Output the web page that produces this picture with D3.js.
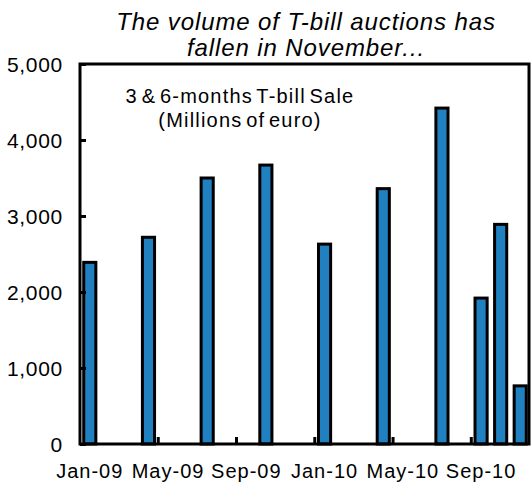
<!DOCTYPE html>
<html><head><meta charset="utf-8">
<script src="https://cdn.jsdelivr.net/npm/d3@7"></script>
<style>body{margin:0;background:#fff}svg{display:block}text{font-family:Arial,"Liberation Sans",sans-serif;fill:#000}</style>
</head><body>
<svg id="c" width="532" height="487"></svg>
<script>
const months = ["Jan-09","Feb-09","Mar-09","Apr-09","May-09","Jun-09","Jul-09","Aug-09","Sep-09","Oct-09","Nov-09","Dec-09",
  "Jan-10","Feb-10","Mar-10","Apr-10","May-10","Jun-10","Jul-10","Aug-10","Sep-10","Oct-10","Nov-10"];
const saleMonths = ["Jan-09","Apr-09","Jul-09","Oct-09","Jan-10","Apr-10","Jul-10","Sep-10","Oct-10","Nov-10"];
const saleValues = [2390,2720,3500,3670,2630,3360,4420,1920,2890,765];
const yTicks = [0,1000,2000,3000,4000,5000];
const xLabels = ["Jan-09","May-09","Sep-09","Jan-10","May-10","Sep-10"];
const titleLines = ["The volume of T-bill auctions has","fallen in November..."];
const noteLines = ["3 & 6-months T-bill Sale","(Millions of euro)"];

const svg = d3.select("#c");
const L=80, R=530, T=64, B=444;
const x = d3.scaleBand().domain(months).range([L,R]).padding(0);
const y = d3.scaleLinear().domain([0,5000]).range([B,T]);
const bw = x.bandwidth()*0.62;

// bars
svg.append("g").selectAll("rect").data(saleMonths).join("rect")
  .attr("x", d=>x(d)+x.bandwidth()/2-bw/2)
  .attr("y", (d,i)=>y(saleValues[i]))
  .attr("width", bw)
  .attr("height", (d,i)=>y(0)-y(saleValues[i]))
  .attr("fill","#2080c0").attr("stroke","#000").attr("stroke-width",3);

// y axis
const ya = svg.append("g").attr("transform",`translate(${L},0)`)
  .call(d3.axisLeft(y).tickValues(yTicks).tickFormat(d3.format(",")).tickSize(-6).tickPadding(17));
ya.select(".domain").remove();
ya.selectAll("line").attr("stroke","#000").attr("stroke-width",3);
ya.selectAll("text").style("font-size","21px").style("letter-spacing","0.7px").attr("dy","0.36em");

// x axis labels
const xa = svg.append("g").attr("transform",`translate(0,${B})`)
  .call(d3.axisBottom(x).tickValues(xLabels).tickSize(0).tickPadding(20));
xa.select(".domain").remove();
xa.selectAll("text").style("font-size","20px").style("letter-spacing","1px").attr("dy","0.71em");
// x ticks at band boundaries
svg.append("g").selectAll("line").data(xLabels.slice(1)).join("line")
  .attr("x1",d=>x(d)).attr("x2",d=>x(d)).attr("y1",B).attr("y2",B-7)
  .attr("stroke","#000").attr("stroke-width",3);

// frame
svg.append("rect").attr("x",L).attr("y",T).attr("width",R-1-L).attr("height",B-T)
  .attr("fill","none").attr("stroke","#000").attr("stroke-width",3);

// title
svg.append("g").selectAll("text").data(titleLines).join("text")
  .attr("x",306).attr("y",(d,i)=>30+i*26).attr("text-anchor","middle")
  .style("font-size","24px").style("font-style","italic").style("letter-spacing","0.9px").text(d=>d);

// note
svg.append("g").selectAll("text").data(noteLines).join("text")
  .attr("x",240).attr("y",(d,i)=>103+i*24).attr("text-anchor","middle")
  .style("font-size","20px").style("word-spacing","-3px").style("letter-spacing","1.2px").text(d=>d);
</script>
</body></html>
